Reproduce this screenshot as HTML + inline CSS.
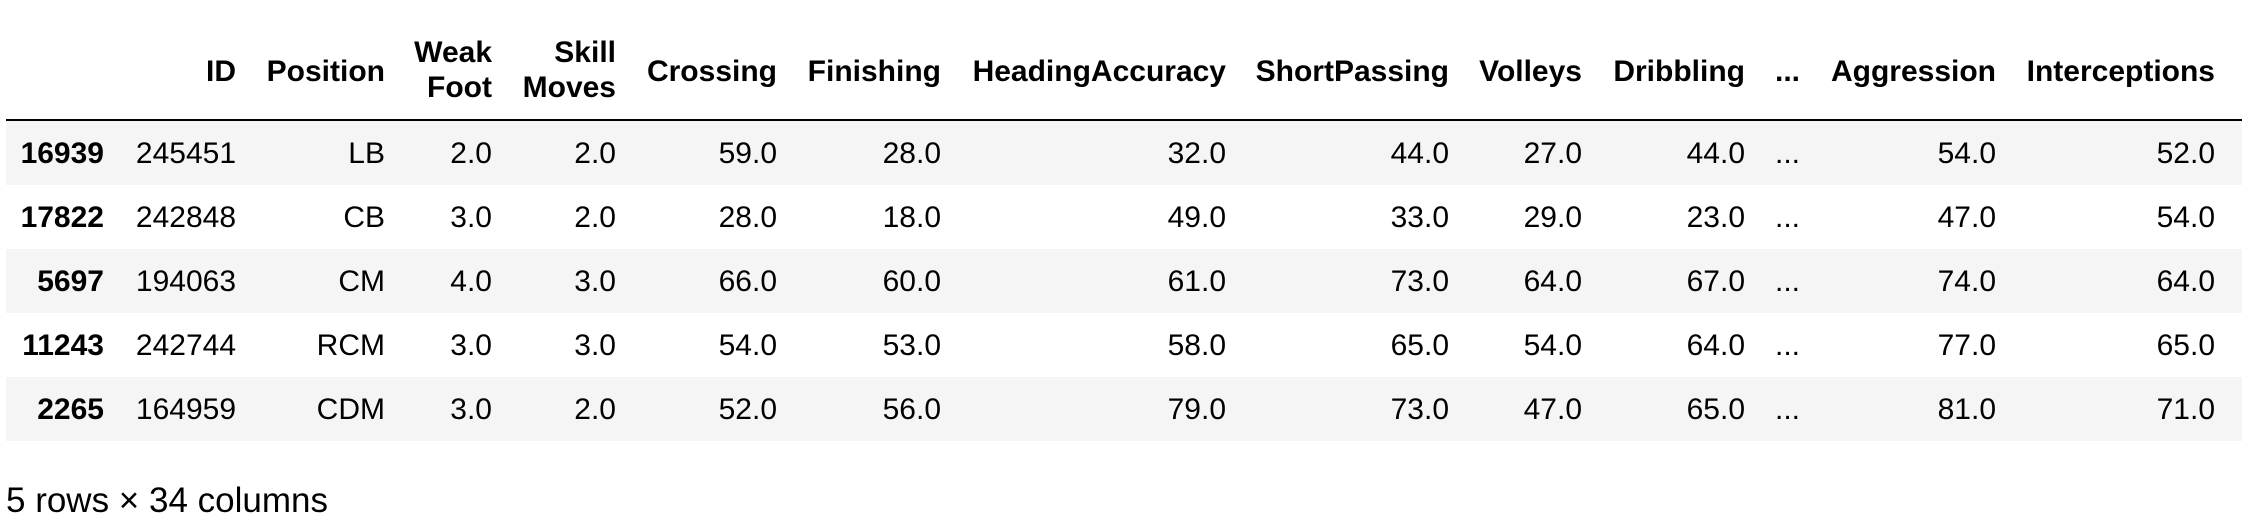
<!DOCTYPE html>
<html><head><meta charset="utf-8"><style>
html,body{margin:0;padding:0;background:#fff;width:2242px;height:528px;overflow:hidden;font-family:"Liberation Sans",sans-serif;color:#000}
.c{position:absolute;white-space:nowrap;font-size:30px;line-height:34px;text-align:right}
.h{font-weight:bold}
.stripe{position:absolute;left:6px;width:2236px;height:64px;background:#f5f5f5}
#rule{position:absolute;left:6px;width:2236px;top:119px;height:2px;background:#000}
#foot{position:absolute;left:6px;top:481px;font-size:35px;line-height:40px}
</style></head><body>
<div id="tbl"></div>
<div id="rule"></div>
<div id="foot">5 rows × 34 columns</div>
<script>
const rights=[104,236,385,492,616,777,941,1226,1449,1582,1745,1800,1996,2215];
const headers=["","ID","Position","Weak\nFoot","Skill\nMoves","Crossing","Finishing","HeadingAccuracy","ShortPassing","Volleys","Dribbling","...","Aggression","Interceptions"];
const indexLabels=["16939","17822","5697","11243","2265"];
const rows=[
["245451","LB","2.0","2.0","59.0","28.0","32.0","44.0","27.0","44.0","...","54.0","52.0"],
["242848","CB","3.0","2.0","28.0","18.0","49.0","33.0","29.0","23.0","...","47.0","54.0"],
["194063","CM","4.0","3.0","66.0","60.0","61.0","73.0","64.0","67.0","...","74.0","64.0"],
["242744","RCM","3.0","3.0","54.0","53.0","58.0","65.0","54.0","64.0","...","77.0","65.0"],
["164959","CDM","3.0","2.0","52.0","56.0","79.0","73.0","47.0","65.0","...","81.0","71.0"]];
const tbl=document.getElementById('tbl');
function cell(txt,right,top,cls,name){
  const d=document.createElement('div');
  d.className='c '+cls;
  d.style.right=(2242-right)+'px';
  d.style.top=top+'px';
  d.textContent=txt;
  
  
  tbl.appendChild(d);return d;
}
for(let r=0;r<5;r++){
  if(r%2===0){const s=document.createElement('div');s.className='stripe';s.style.top=(121+r*64)+'px';
  
  
  tbl.appendChild(s);}
}
headers.forEach((h,i)=>{
  if(!h)return;
  const parts=h.split('\n');
  if(parts.length===2){
    cell(parts[0],rights[i],36,'h','column-header');
    cell(parts[1],rights[i],71,'h','column-header');
  } else cell(h,rights[i],55,'h','column-header');
});
for(let r=0;r<5;r++){
  const top=137+r*64;
  cell(indexLabels[r],rights[0],top,'h','row-index');
  rows[r].forEach((v,j)=>{
    const d=cell(v,rights[j+1],top,'','table-cell');
    if(v==='...'){d.style.right='';d.style.left='1775px';d.style.textAlign='left';}
  });
}
</script>
</body></html>
